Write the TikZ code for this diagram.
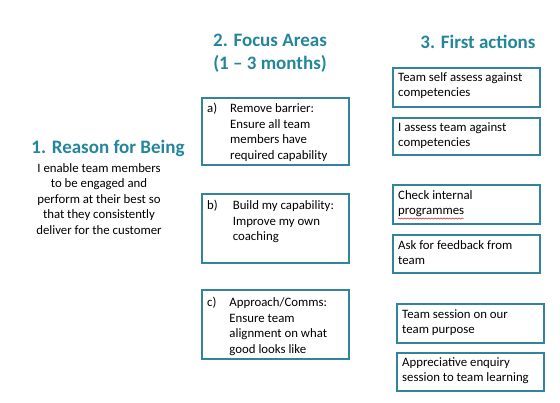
\documentclass[tikz,border=0pt]{standalone}
\usepackage{fontspec}
\setmainfont{Carlito}
\usetikzlibrary{decorations.pathmorphing}
\definecolor{teal1}{HTML}{23869B}
\definecolor{tealbox}{HTML}{31849B}
\tikzset{
  title/.style={font=\fontsize{19}{23}\selectfont\bfseries, text=teal1, align=center, inner sep=0},
  body/.style={font=\fontsize{12.8}{15.5}\selectfont, align=center, inner sep=0},
  box/.style={draw=tealbox, line width=1.6pt, anchor=north west, inner sep=0},
  btext/.style={font=\fontsize{12.8}{15.8}\selectfont, anchor=north west, inner sep=0, align=left},
  squiggle/.style={draw=red!80!black, line width=0.4pt, decorate, decoration={snake, amplitude=0.6pt, segment length=3pt}},
}
\begin{document}
\begin{tikzpicture}[x=1pt,y=-1pt]
\useasboundingbox (0,0) rectangle (560,403);
% titles
\node[title] (t1) at (108,148) {1. Reason for Being};
\node[title] (t2) at (270,53.5) {2. Focus Areas\\(1 -- 3 months)};
\node[title] (t3) at (478,42) {3. First actions};
\node[body, anchor=north] (reason) at (99,163) {I enable team members\\to be engaged and\\perform at their best so\\that they consistently\\deliver for the customer};
% focus boxes
\node[box, minimum width=147pt, minimum height=67pt] (fa) at (201,97) {};
\node[box, minimum width=147pt, minimum height=69pt] (fb) at (201,193) {};
\node[box, minimum width=147pt, minimum height=69pt] (fc) at (201,289) {};
\node[btext] (fat) at (207,101) {\begin{tabular}{@{}l@{\hspace{13pt}}l@{}}a) & Remove barrier:\\ & Ensure all team\\ & members have\\ & required capability\end{tabular}};
\node[btext] (fbt) at (207,198) {\begin{tabular}{@{}l@{\hspace{15pt}}l@{}}b) & Build my capability:\\ & Improve my own\\ & coaching\end{tabular}};
\node[btext] (fct) at (207,295) {\begin{tabular}{@{}l@{\hspace{13pt}}l@{}}c) & Approach/Comms:\\ & Ensure team\\ & alignment on what\\ & good looks like\end{tabular}};
% action boxes
\node[box, minimum width=147pt, minimum height=39pt] (a1) at (392,67) {};
\node[box, minimum width=147pt, minimum height=37pt] (a2) at (392,117) {};
\node[box, minimum width=147pt, minimum height=39pt] (a3) at (392,184) {};
\node[box, minimum width=147pt, minimum height=38pt] (a4) at (392,234) {};
\node[box, minimum width=147pt, minimum height=39pt] (a5) at (396,303) {};
\node[box, minimum width=147pt, minimum height=38pt] (a6) at (396,352) {};
\node[btext] (a1t) at (398,72) {Team self assess against\\competencies};
\node[btext] (a2t) at (398,122) {I assess team against\\competencies};
\node[btext] (a3t) at (398,190) {Check internal\\programmes};
\node[btext] (a4t) at (398,240) {Ask for feedback from\\team};
\node[btext] (a5t) at (402,309) {Team session on our\\team purpose};
\node[btext] (a6t) at (402,357) {Appreciative enquiry\\session to team learning};
\coordinate (sqa) at (398,218.5);
\coordinate (sqb) at (464,218.5);
\path[squiggle] (sqa) -- (sqb);
\end{tikzpicture}
\end{document}
